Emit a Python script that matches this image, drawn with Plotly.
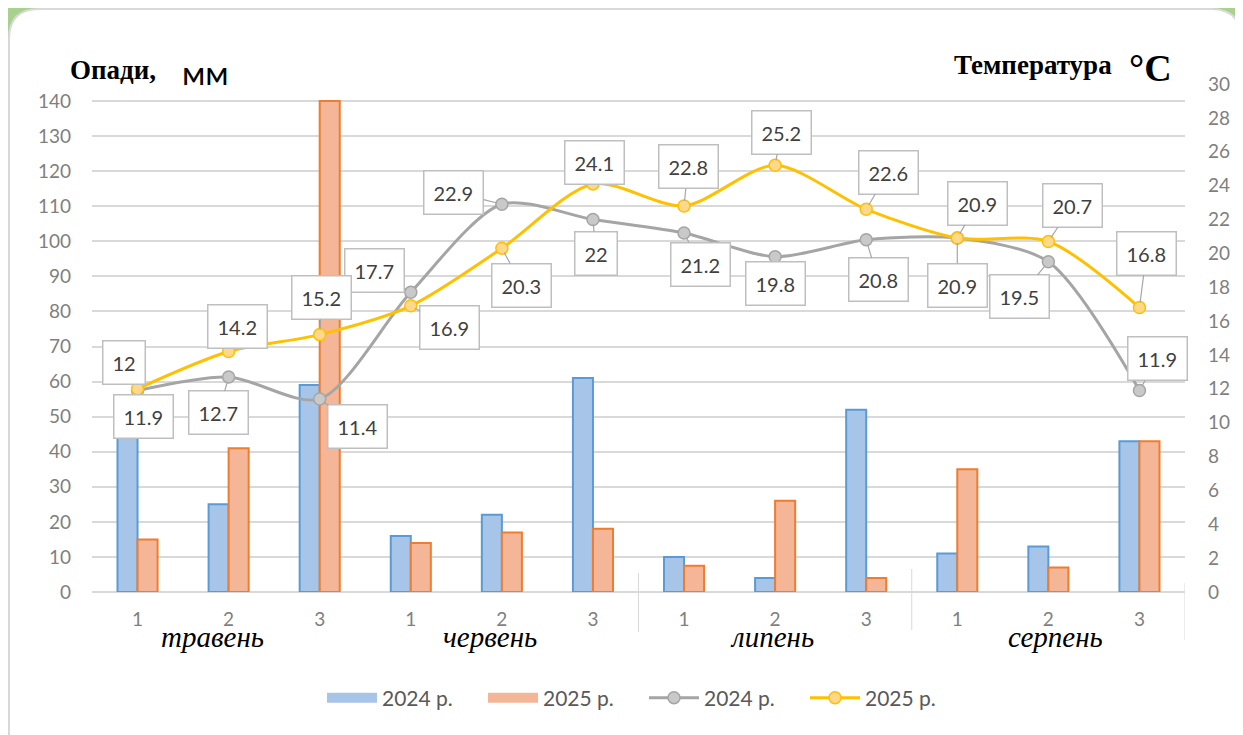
import plotly.graph_objects as go

decades = ["1", "2", "3"] * 4
months = ["травень", "червень", "липень", "серпень"]
rain_2024 = [48, 25, 59, 16, 22, 61, 10, 4, 52, 11, 13, 43]
rain_2025 = [15, 41, 140, 14, 17, 18, 7.5, 26, 4, 35, 7, 43]
temp_2024 = [11.9, 12.7, 11.4, 17.7, 22.9, 22, 21.2, 19.8, 20.8, 20.9, 19.5, 11.9]
temp_2025 = [12, 14.2, 15.2, 16.9, 20.3, 24.1, 22.8, 25.2, 22.6, 20.9, 20.7, 16.8]
years = ["2024 р.", "2025 р."]

# where each data label box sits relative to its point (pixels)
lbl_off_2024 = [(6, 26), (-10, 36), (38, 28), (-36, -22), (-48, -12), (3, 34),
                (16, 31), (0, 27), (12, 40), (0, 47), (-29, 35), (18, -32)]
lbl_off_2025 = [(-14, -26), (9, -25), (2, -37), (39, 22), (20, 37), (2, -21),
                (4, -39), (6, -33), (22, -37), (20, -35), (24, -36), (7, -54)]
month_shift = [-16, -12, -3, 7]

# page has an 8px body margin, so the figure starts at (8, 8) of the window
OFF = 8
W, H = 1243 - OFF, 735 - OFF
L, R, T, B = 92, 1185, 84, 592   # plot area in window pixels

BLUE, BLUE_EDGE = "#A7C5E9", "#5B9BD5"
ORANGE, ORANGE_EDGE = "#F5B697", "#ED7D31"


def px(x):
    return (x - L) / (R - L)


def py(y):
    return (B - y) / (B - T)


x = list(range(len(decades)))
fig = go.Figure()

fig.add_bar(x=x, y=rain_2024, name=years[0], showlegend=False, legendgroup="b24",
            marker=dict(color=BLUE, line=dict(color=BLUE_EDGE, width=2)))
fig.add_bar(x=x, y=rain_2025, name=years[1], showlegend=False, legendgroup="b25",
            marker=dict(color=ORANGE, line=dict(color=ORANGE_EDGE, width=2)))
# wide rectangular legend keys for the bars, as in Excel
fig.add_scatter(x=[None], y=[None], name=years[0], mode="lines", legendgroup="b24",
                line=dict(color=BLUE, width=13))
fig.add_scatter(x=[None], y=[None], name=years[1], mode="lines", legendgroup="b25",
                line=dict(color=ORANGE, width=13))
fig.add_scatter(x=x, y=temp_2024, name=years[0], yaxis="y2", mode="lines+markers",
                line=dict(color="#A5A5A5", width=3, shape="spline", smoothing=0.8),
                marker=dict(size=12, color="#C9C9C9", line=dict(color="#A5A5A5", width=1.5)))
fig.add_scatter(x=x, y=temp_2025, name=years[1], yaxis="y2", mode="lines+markers",
                line=dict(color="#FFC000", width=3, shape="spline", smoothing=0.8),
                marker=dict(size=12, color="#FFD88A", line=dict(color="#FFC000", width=1.5)))

annotations = []
for vals, offs in ((temp_2024, lbl_off_2024), (temp_2025, lbl_off_2025)):
    for i, v in enumerate(vals):
        annotations.append(dict(
            x=i, y=v, xref="x", yref="y2", text=f"{v:g}", showarrow=True,
            ax=offs[i][0], ay=offs[i][1], arrowhead=0, arrowwidth=1.2, arrowcolor="#A6A6A6",
            standoff=5, bgcolor="white", bordercolor="#BFBFBF", borderwidth=1.5, borderpad=9,
            font=dict(family="Lato", size=20, color="#404040")))

for k, m in enumerate(months):
    annotations.append(dict(x=3 * k + 1, y=py(637), xref="x", yref="paper", xshift=month_shift[k],
                            yanchor="middle", text=m, showarrow=False,
                            font=dict(family="Liberation Serif", size=29, color="black", style="italic")))

annotations += [
    dict(x=px(68), y=py(70), xref="paper", yref="paper", xanchor="left", yanchor="middle",
         text="<b>Опади,</b>", showarrow=False, font=dict(family="Liberation Serif", size=27, color="black")),
    dict(x=px(180), y=py(72), xref="paper", yref="paper", xanchor="left", yanchor="middle",
         text="мм", showarrow=False, font=dict(family="Lato", size=33, color="black")),
    dict(x=px(952), y=py(65), xref="paper", yref="paper", xanchor="left", yanchor="middle",
         text="<b>Температура</b>", showarrow=False, font=dict(family="Liberation Serif", size=27, color="black")),
    dict(x=px(1127), y=py(68), xref="paper", yref="paper", xanchor="left", yanchor="middle",
         text="<b>°C</b>", showarrow=False, font=dict(family="Liberation Serif", size=38, color="black")),
]

shapes = [
    dict(type="rect", xref="paper", yref="paper", x0=px(8), x1=px(1243), y0=py(8), y1=py(745),
         fillcolor="#A9D18E", line=dict(width=0), layer="below"),
]
r = 30
x0, x1, y0, y1 = 9, 1241, 9, 760
path = (f"M {px(x0 + r)},{py(y0)} L {px(x1 - r)},{py(y0)} Q {px(x1)},{py(y0)} {px(x1)},{py(y0 + r)} "
        f"L {px(x1)},{py(y1 - r)} Q {px(x1)},{py(y1)} {px(x1 - r)},{py(y1)} "
        f"L {px(x0 + r)},{py(y1)} Q {px(x0)},{py(y1)} {px(x0)},{py(y1 - r)} "
        f"L {px(x0)},{py(y0 + r)} Q {px(x0)},{py(y0)} {px(x0 + r)},{py(y0)} Z")
shapes.append(dict(type="path", path=path, xref="paper", yref="paper", fillcolor="white",
                   line=dict(color="#D9D9D9", width=2), layer="below"))
for xs, top, bot in ((5.5, 573, 632), (8.5, 569, 630), (11.5, 583, 640)):
    shapes.append(dict(type="line", xref="x", yref="paper", x0=xs, x1=xs, y0=py(top), y1=py(bot),
                       line=dict(color="#D9D9D9", width=1)))

fig.update_layout(
    width=W, height=H,
    margin=dict(l=L - OFF, r=OFF + W - R, t=T - OFF, b=OFF + H - B),
    paper_bgcolor="white", plot_bgcolor="rgba(0,0,0,0)",
    barmode="group", bargap=0.56, bargroupgap=0,
    font=dict(family="Lato", color="#7F7F7F"),
    xaxis=dict(range=[-0.5, 11.5], tickvals=x, ticktext=decades, showgrid=False, zeroline=False,
               showline=False, ticks="", tickfont=dict(size=19), ticklabelstandoff=14),
    yaxis=dict(range=[0, 140 * (B - T) / (B - 101)], tickvals=list(range(0, 141, 10)),
               showgrid=True, gridcolor="#D9D9D9", gridwidth=1.5, zeroline=True, zerolinecolor="#D9D9D9",
               zerolinewidth=1.5, tickfont=dict(size=19), ticklabelstandoff=20),
    yaxis2=dict(range=[0, 30], tickvals=list(range(0, 31, 2)), overlaying="y", side="right",
                showgrid=False, zeroline=False, tickfont=dict(size=19), ticklabelstandoff=22),
    legend=dict(orientation="h", x=px(322), xanchor="left", y=py(698), yanchor="middle",
                font=dict(size=21, color="#595959"), itemwidth=50, entrywidth=96, tracegroupgap=0,
                traceorder="normal"),
    annotations=annotations, shapes=shapes, showlegend=True,
)

fig.write_html("out.html")
